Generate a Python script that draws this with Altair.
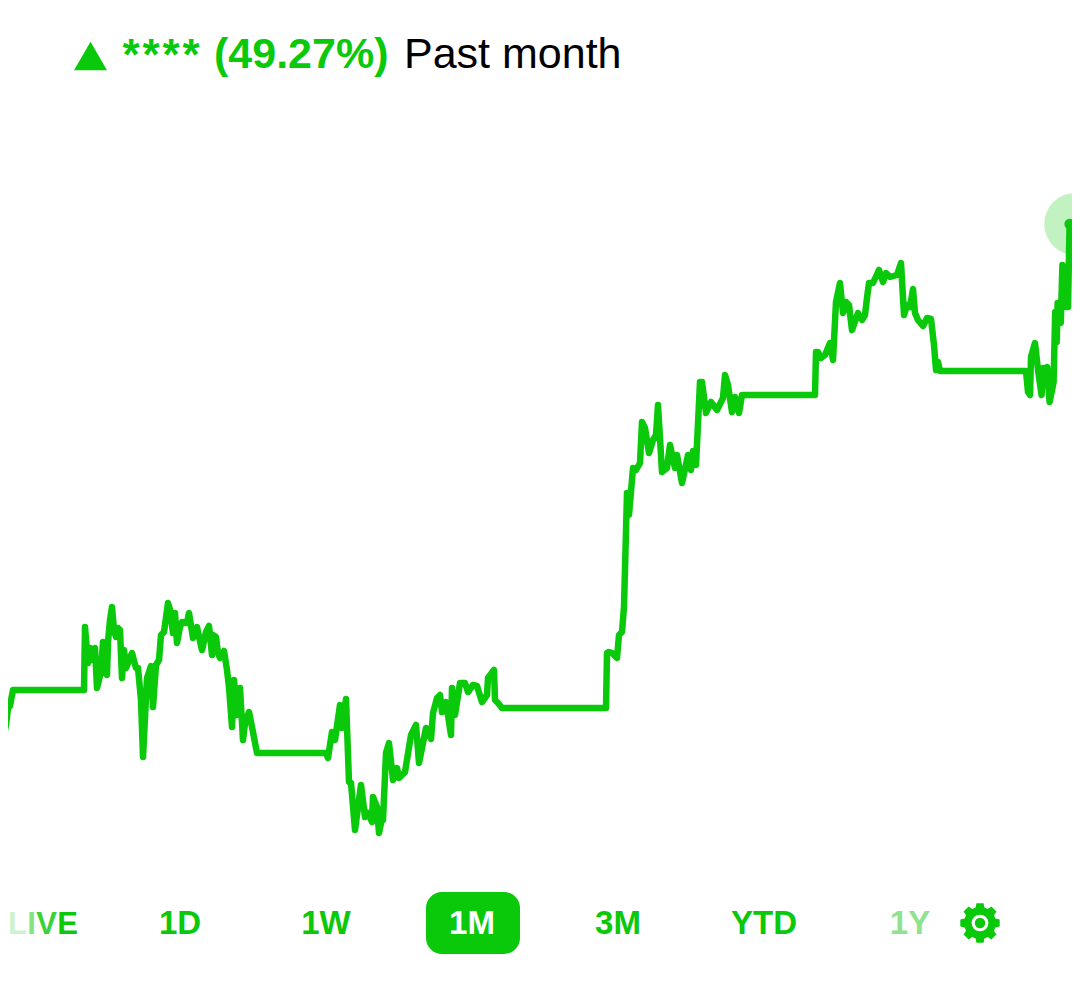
import math
import altair as alt
import pandas as pd

GREEN = "#0ac80a"
FONT = "Liberation Sans"

# traced series, one small list per stretch of the line: (position, reading)
part_1 = [(1,764),(4,735),(6,725),(8,708),(10,706),(13,690),(84,690),(85,627),(88,663),(90,648),(92,660),(95,648),
          (97,688),(99,680),(101,672),(103,642),(105,670),(107,675),(108,642),(110,620),(112,607),(114,630),(116,637),
          (118,628),(120,630),(122,678),(124,650),(126,668),(132,653),(136,668),(138,668),(141,700),(143,757)]
part_2 = [(147,678),(151,666),(153,707),(156,665),(159,660),(161,635),(164,632),(168,603),(170,610),(173,633),(175,613),
          (177,643),(180,627),(182,622),(187,623),(189,613),(193,638),(197,627),(198,632),(202,650),(206,632),(209,626),
          (212,655),(213,635),(216,637),(218,653),(220,658),(224,651),(227,670),(229,687),(232,727),(234,680),(237,715),
          (240,688),(243,740),(245,723),(249,712),(252,727),(257,753),(326,753)]
part_3 = [(328,758),(332,732),(335,740),(340,705),(342,728),(346,699),(349,782),(351,783),(355,830),(361,785),(365,817),
          (368,813),(372,822),(373,797),(377,807),(379,833),(382,818),(383,820),(386,753),(389,743),(393,780),(397,768),
          (399,778),(405,772),(411,735),(416,725),(419,763),(426,728),(431,739),(433,713),(437,698),(440,695),(442,712),
          (446,702),(451,735),(452,688),(455,715),(460,683),(465,683),(468,692),(473,685),(477,686),(482,702),(487,695),
          (488,678),(494,670),(495,700),(498,703),(502,708),(606,708)]
part_4 = [(607,653),(609,652),(612,653),(617,658),(619,635),(622,632),(624,607),(627,493),(629,515),(633,468),(636,470),
          (640,463),(642,422),(645,428),(649,453),(653,440),(656,435),(658,405),(662,472),(667,468),(670,445),(675,468),
          (677,455),(682,483),(688,455),(691,470),(693,451),(696,465),(700,382),(702,382),(706,413),(711,402),(717,410),
          (723,398),(725,375),(728,385),(732,412),(735,397),(739,413),(742,395),(815,395)]
part_5 = [(816,352),(818,352),(821,358),(825,355),(830,343),(833,360),(836,302),(840,283),(843,313),(846,302),(849,305),
          (852,330),(858,313),(862,320),(865,315),(867,298),(869,283),(873,283),(879,270),(883,282),(886,273),(890,277),
          (897,275),(901,263),(904,315),(907,305),(910,307),(913,289),(915,313),(918,320),(923,326),(927,318),(931,319),
          (934,345),(936,370),(938,362),(940,371),(1026,371)]
part_6 = [(1028,392),(1030,395),(1031,357),(1035,343),(1038,370),(1042,395),(1044,368),(1046,382),(1049,367),(1052,402),
          (1057,382),(1059,312),(1061,342),(1062,303),(1066,323),(1068,265),(1073,307),(1075,307),(1077,224)]

range_labels = ["1D", "1W", "3M", "YTD"]
range_label_x = [180, 326, 618, 764]
live_letters = ["L", "I", "V", "E"]
live_x = [17.5, 31.5, 46.5, 67.5]
live_opacity = [0.2, 0.5, 0.8, 1.0]
star_x = [131, 151, 171, 191]

xs = alt.Scale(domain=[8, 1040, 1080], range=[0, 1032, 1064])
ys = alt.Scale(domain=[8, 992], range=[0, 984])
X = alt.X("x:Q", scale=xs, axis=None)
Y = alt.Y("y:Q", scale=ys, axis=None)


def text_layer(rows, color, size, bold=True, align="center", font=FONT):
    return alt.Chart(pd.DataFrame(rows)).mark_text(
        color=color, fontSize=size, font=font, fontWeight="bold" if bold else "normal",
        align=align, baseline="alphabetic",
    ).encode(x=X, y=Y, text="t:N")


points = part_1 + part_2 + part_3 + part_4 + part_5 + part_6
line_df = pd.DataFrame(points, columns=["x", "y"]).reset_index(names="i")
line = alt.Chart(line_df).mark_line(
    color=GREEN, strokeWidth=6.5, strokeJoin="round", strokeCap="round"
).encode(x=X, y=Y, order="i:Q")

end = pd.DataFrame({"x": [points[-1][0]], "y": [points[-1][1]]})
halo = alt.Chart(pd.DataFrame({"x": [1084], "y": [224]})).mark_point(
    filled=True, color=GREEN, opacity=0.25, size=3844, shape="circle"
).encode(x=X, y=Y)
dot = alt.Chart(end).mark_point(filled=True, color=GREEN, opacity=1, size=110, shape="circle").encode(x=X, y=Y)

tri = alt.Chart(pd.DataFrame({"x": [90.5], "y": [56]})).mark_point(
    filled=True, color=GREEN, opacity=1, shape="triangle-up", size=1089
).encode(x=X, y=Y)

stars = text_layer([{"x": a, "y": 70, "t": "*"} for a in star_x], GREEN, 44)
pct = text_layer([{"x": 214, "y": 68, "t": "(49.27%)"}], GREEN, 43, align="left")
past = text_layer([{"x": 404, "y": 68, "t": "Past month"}], "#000000", 43, bold=False, align="left")

button = alt.Chart(pd.DataFrame({"x": [426], "x2": [520], "y": [892], "y2": [954]})).mark_rect(
    color=GREEN, cornerRadius=16
).encode(x=X, x2="x2:Q", y=Y, y2="y2:Q")

labels = text_layer(
    [{"x": a, "y": 934, "t": b} for a, b in zip(range_label_x, range_labels)], GREEN, 33
)
label_1m = text_layer([{"x": 472, "y": 934, "t": "1M"}], "#ffffff", 33)
label_1y = text_layer([{"x": 910, "y": 934, "t": "1Y"}], "#8fe38f", 33)
live = alt.Chart(pd.DataFrame({"x": live_x, "y": [934] * 4, "t": live_letters, "o": live_opacity})).mark_text(
    color=GREEN, fontSize=31, font=FONT, fontWeight="bold", align="center", baseline="alphabetic"
).encode(x=X, y=Y, text="t:N", opacity=alt.Opacity("o:Q", scale=None))

# gear outline in the unit box of a custom symbol
teeth = 8
pts = []
for k in range(teeth):
    c = 2 * math.pi * k / teeth
    for r, d in [(0.8, -0.28), (1.0, -0.18), (1.0, 0.18), (0.8, 0.28)]:
        pts.append((r * math.sin(c + d), -r * math.cos(c + d)))
gear_path = "M" + "L".join(f"{a:.3f},{b:.3f}" for a, b in pts) + "Z"
gear_xy = {"x": [980], "y": [923]}
gear = alt.Chart(pd.DataFrame(gear_xy)).mark_point(
    filled=True, color=GREEN, opacity=1, shape=gear_path, size=1600
).encode(x=X, y=Y)
gear_hole = alt.Chart(pd.DataFrame(gear_xy)).mark_point(
    filled=True, color="#ffffff", opacity=1, shape="circle", size=280
).encode(x=X, y=Y)
gear_hub = alt.Chart(pd.DataFrame(gear_xy)).mark_point(
    filled=True, color=GREEN, opacity=1, shape="circle", size=110
).encode(x=X, y=Y)

chart = alt.layer(
    halo, line, dot, tri, stars, pct, past, button, labels, label_1m, label_1y, live, gear, gear_hole, gear_hub
).properties(
    width=1064, height=984, padding=0, background="#ffffff", autosize=alt.AutoSizeParams(type="none")
).configure_view(stroke=None)

chart.save("out.html", embed_options={"renderer": "svg", "actions": False})
